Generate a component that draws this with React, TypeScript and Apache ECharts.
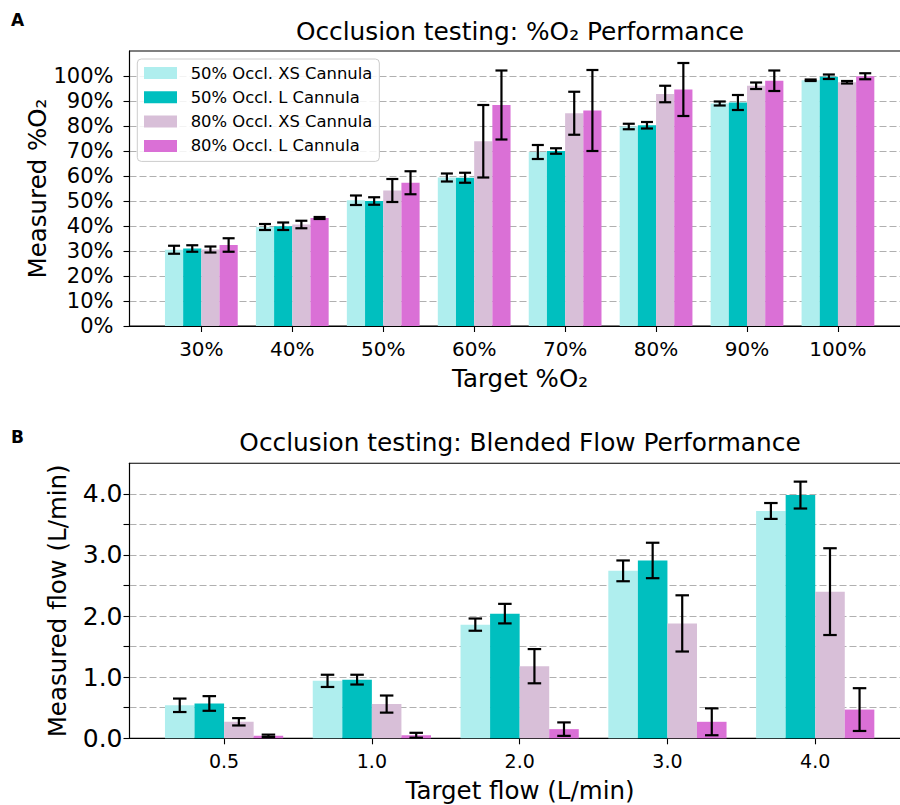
import React, { useEffect, useRef } from 'react';
import * as echarts from 'echarts';

// ---------- data ----------
const o2Categories = ['30%', '40%', '50%', '60%', '70%', '80%', '90%', '100%'];
const o2TickValues = [0, 10, 20, 30, 40, 50, 60, 70, 80, 90, 100];

const o2XS50 = [30.5, 39.6, 50.3, 59.4, 69.6, 79.8, 89.0, 98.3];
const o2XS50Err = [1.6, 1.2, 1.9, 1.6, 2.8, 1.1, 0.8, 0.3];
const o2L50 = [31.0, 39.9, 50.0, 59.3, 70.0, 80.3, 89.4, 99.7];
const o2L50Err = [1.3, 1.5, 1.5, 2.0, 1.1, 1.3, 3.0, 0.9];
const o2XS80 = [30.6, 40.6, 54.2, 73.9, 85.1, 92.8, 96.1, 97.5];
const o2XS80Err = [1.2, 1.5, 4.6, 14.5, 8.6, 3.3, 1.3, 0.5];
const o2L80 = [32.4, 43.2, 57.3, 88.4, 86.2, 94.6, 98.1, 99.9];
const o2L80Err = [2.7, 0.4, 4.6, 13.8, 16.2, 10.6, 4.1, 1.2];

const flowCategories = ['0.5', '1.0', '2.0', '3.0', '4.0'];
const flowTickValues = [0, 0.5, 1, 1.5, 2, 2.5, 3, 3.5, 4];
const flowLabelValues = [0, 1, 2, 3, 4];

const flXS50 = [0.54, 0.94, 1.86, 2.74, 3.72];
const flXS50Err = [0.11, 0.10, 0.10, 0.17, 0.13];
const flL50 = [0.57, 0.96, 2.04, 2.91, 3.98];
const flL50Err = [0.12, 0.08, 0.16, 0.29, 0.22];
const flXS80 = [0.27, 0.56, 1.18, 1.88, 2.40];
const flXS80Err = [0.06, 0.14, 0.28, 0.46, 0.71];
const flL80 = [0.04, 0.05, 0.15, 0.27, 0.47];
const flL80Err = [0.02, 0.04, 0.11, 0.22, 0.35];

const seriesNames = [
  '50% Occl. XS Cannula',
  '50% Occl. L Cannula',
  '80% Occl. XS Cannula',
  '80% Occl. L Cannula',
];
const seriesColors = ['#afeeee', '#00bfbf', '#d8bfd8', '#da70d6'];

// ---------- styling ----------
const FONT = 'DejaVu Sans';
const BAR_W = 0.2;

function barRender(slot: number) {
  return (_params: any, api: any) => {
    const x = api.value(0);
    const y = api.value(1);
    const cx = x + (slot - 1.5) * BAR_W;
    const p0 = api.coord([cx - BAR_W / 2, y]);
    const p1 = api.coord([cx + BAR_W / 2, 0]);
    return {
      type: 'rect',
      shape: { x: p0[0], y: p0[1], width: p1[0] - p0[0], height: p1[1] - p0[1] },
      style: { fill: seriesColors[slot] },
    };
  };
}

function errRender(capPx: number) {
  return (_params: any, api: any) => {
    const x = api.value(0);
    const slot = api.value(1);
    const m = api.value(2);
    const e = api.value(3);
    const cx = x + (slot - 1.5) * BAR_W;
    const t = api.coord([cx, m + e]);
    const b = api.coord([cx, m - e]);
    const h = capPx / 2;
    const st = { stroke: '#000', lineWidth: 2.2 };
    return {
      type: 'group',
      children: [
        { type: 'line', shape: { x1: t[0], y1: t[1], x2: b[0], y2: b[1] }, style: st },
        { type: 'line', shape: { x1: t[0] - h, y1: t[1], x2: t[0] + h, y2: t[1] }, style: st },
        { type: 'line', shape: { x1: b[0] - h, y1: b[1], x2: b[0] + h, y2: b[1] }, style: st },
      ],
    };
  };
}

function buildSeries(gridIdx: number, groups: number[][], errs: number[][], cap: number) {
  const out: any[] = [];
  groups.forEach((vals, slot) => {
    out.push({
      type: 'custom',
      name: seriesNames[slot],
      xAxisIndex: gridIdx,
      yAxisIndex: gridIdx,
      itemStyle: { color: seriesColors[slot] },
      renderItem: barRender(slot),
      encode: { x: 0, y: 1 },
      data: vals.map((v, i) => [i, v]),
      z: 2,
    });
  });
  const errData: number[][] = [];
  groups.forEach((vals, slot) => {
    vals.forEach((v, i) => errData.push([i, slot, v, errs[slot][i]]));
  });
  out.push({
    type: 'custom',
    name: 'err' + gridIdx,
    xAxisIndex: gridIdx,
    yAxisIndex: gridIdx,
    renderItem: errRender(cap),
    encode: { x: 0, y: 2 },
    data: errData,
    z: 5,
  });
  return out;
}

const axisLineStyle = { color: '#000', width: 1.1 };
const gridLineStyle = { color: '#b0b0b0', width: 1.2, type: [7, 3] as any };

export default function App() {
  const ref = useRef<HTMLDivElement>(null);

  useEffect(() => {
    if (!ref.current) return;
    const chart = echarts.init(ref.current, undefined, { renderer: 'svg' });

    const option: any = {
      animation: false,
      backgroundColor: '#fff',
      grid: [
        {
          left: 129.5, width: 780.3, top: 51, height: 275,
          show: true, borderColor: '#000', borderWidth: 1.1, backgroundColor: 'transparent',
          outerBoundsMode: 'none', containLabel: false,
        },
        {
          left: 129.5, width: 780.3, top: 463.3, height: 275,
          show: true, borderColor: '#000', borderWidth: 1.1, backgroundColor: 'transparent',
          outerBoundsMode: 'none', containLabel: false,
        },
      ],
      xAxis: [
        {
          gridIndex: 0, type: 'value', min: -0.79, max: 7.79,
          axisLine: { show: true, onZero: false, lineStyle: axisLineStyle },
          axisTick: { show: true, length: 6, lineStyle: axisLineStyle, customValues: o2Categories.map((_, i) => i) },
          axisLabel: {
            customValues: o2Categories.map((_, i) => i),
            formatter: (v: number) => o2Categories[Math.round(v)] ?? '',
            color: '#000', fontFamily: FONT, fontSize: 20, margin: 13,
          },
          splitLine: { show: false },
        },
        {
          gridIndex: 1, type: 'value', min: -0.64, max: 4.64,
          axisLine: { show: true, onZero: false, lineStyle: axisLineStyle },
          axisTick: { show: true, length: 6, lineStyle: axisLineStyle, customValues: flowCategories.map((_, i) => i) },
          axisLabel: {
            customValues: flowCategories.map((_, i) => i),
            formatter: (v: number) => flowCategories[Math.round(v)] ?? '',
            color: '#000', fontFamily: FONT, fontSize: 19, margin: 13,
          },
          splitLine: { show: false },
        },
      ],
      yAxis: [
        {
          gridIndex: 0, type: 'value', min: 0, max: 110, interval: 10,
          axisLine: { show: true, onZero: false, lineStyle: axisLineStyle },
          axisTick: { show: true, length: 6, lineStyle: axisLineStyle, customValues: o2TickValues },
          axisLabel: {
            customValues: o2TickValues,
            formatter: (v: number) => `${v}%`,
            color: '#000', fontFamily: FONT, fontSize: 21, margin: 16,
          },
          splitLine: { show: true, lineStyle: gridLineStyle },
        },
        {
          gridIndex: 1, type: 'value', min: 0, max: 4.5, interval: 0.5,
          axisLine: { show: true, onZero: false, lineStyle: axisLineStyle },
          axisTick: { show: true, length: 6, lineStyle: axisLineStyle, customValues: flowTickValues },
          axisLabel: {
            customValues: flowLabelValues,
            formatter: (v: number) => v.toFixed(1),
            color: '#000', fontFamily: FONT, fontSize: 25, margin: 7,
          },
          splitLine: { show: true, lineStyle: gridLineStyle },
        },
      ],
      legend: {
        data: seriesNames,
        orient: 'vertical',
        left: 137.3, top: 59,
        icon: 'rect',
        itemWidth: 33, itemHeight: 12, itemGap: 7.3,
        padding: [5.5, 7, 7, 6.7],
        borderColor: '#cccccc', borderWidth: 1, borderRadius: 4,
        backgroundColor: 'rgba(255,255,255,0.85)',
        selectedMode: false,
        textStyle: { fontFamily: FONT, fontSize: 16.4, color: '#000', lineHeight: 17, padding: [0, 0, 0, 8.7] },
        z: 10,
      },
      graphic: [
        { type: 'text', x: 11, y: 20, style: { text: 'A', fill: '#000', font: `bold 17px "${FONT}"`, align: 'left', verticalAlign: 'middle', textAlign: 'left', textVerticalAlign: 'middle' } },
        { type: 'text', x: 11, y: 437, style: { text: 'B', fill: '#000', font: `bold 17px "${FONT}"`, align: 'left', verticalAlign: 'middle', textAlign: 'left', textVerticalAlign: 'middle' } },
        { type: 'text', x: 520, y: 31, style: { text: 'Occlusion testing: %O₂ Performance', fill: '#000', font: `24.8px "${FONT}"`, align: 'center', verticalAlign: 'middle', textAlign: 'center', textVerticalAlign: 'middle' } },
        { type: 'text', x: 520, y: 442, style: { text: 'Occlusion testing: Blended Flow Performance', fill: '#000', font: `24.8px "${FONT}"`, align: 'center', verticalAlign: 'middle', textAlign: 'center', textVerticalAlign: 'middle' } },
        { type: 'text', x: 520, y: 378, style: { text: 'Target %O₂', fill: '#000', font: `24.5px "${FONT}"`, align: 'center', verticalAlign: 'middle', textAlign: 'center', textVerticalAlign: 'middle' } },
        { type: 'text', x: 520, y: 790, style: { text: 'Target flow (L/min)', fill: '#000', font: `24.5px "${FONT}"`, align: 'center', verticalAlign: 'middle', textAlign: 'center', textVerticalAlign: 'middle' } },
        { type: 'text', x: 37, y: 188.5, rotation: Math.PI / 2, style: { text: 'Measured %O₂', fill: '#000', font: `24.5px "${FONT}"`, align: 'center', verticalAlign: 'middle', textAlign: 'center', textVerticalAlign: 'middle' } },
        { type: 'text', x: 57, y: 600.8, rotation: Math.PI / 2, style: { text: 'Measured flow (L/min)', fill: '#000', font: `24.5px "${FONT}"`, align: 'center', verticalAlign: 'middle', textAlign: 'center', textVerticalAlign: 'middle' } },
      ],
      series: [
        ...buildSeries(0, [o2XS50, o2L50, o2XS80, o2L80], [o2XS50Err, o2L50Err, o2XS80Err, o2L80Err], 12),
        ...buildSeries(1, [flXS50, flL50, flXS80, flL80], [flXS50Err, flL50Err, flXS80Err, flL80Err], 13.5),
      ],
    };

    chart.setOption(option);
    return () => chart.dispose();
  }, []);

  return (
    <div style={{ position: 'absolute', left: 0, top: 0, width: 900, height: 805, overflow: 'hidden', background: '#fff' }}>
      <div ref={ref} style={{ width: 920, height: 805 }} />
    </div>
  );
}
